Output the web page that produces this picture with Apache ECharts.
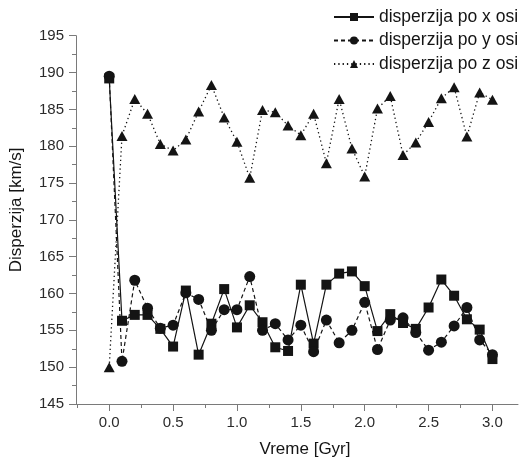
<!DOCTYPE html>
<html>
<head>
<meta charset="utf-8">
<title>Disperzija brzina</title>
<script src="https://cdn.jsdelivr.net/npm/echarts@6/dist/echarts.min.js"></script>
<style>
  html, body { margin: 0; padding: 0; background: #fff; }
  #chart { width: 523px; height: 463px; }
</style>
</head>
<body>
<div id="chart"></div>
<script>
// Time steps in Gyr
const vreme = [0.0, 0.1, 0.2, 0.3, 0.4, 0.5, 0.6, 0.7, 0.8, 0.9, 1.0,
               1.1, 1.2, 1.3, 1.4, 1.5, 1.6, 1.7, 1.8, 1.9, 2.0,
               2.1, 2.2, 2.3, 2.4, 2.5, 2.6, 2.7, 2.8, 2.9, 3.0];

// Velocity dispersion along each axis [km/s]
const dispX = [189.2, 156.3, 157.1, 157.1, 155.2, 152.8, 160.4, 151.7, 155.9, 160.6, 155.4,
               158.4, 156.1, 152.7, 152.2, 161.2, 153.2, 161.2, 162.7, 163.0, 161.0,
               154.9, 157.2, 156.0, 155.2, 158.1, 161.9, 159.7, 156.5, 155.1, 151.1];
const dispY = [189.5, 150.8, 161.8, 158.0, 155.3, 155.7, 160.1, 159.2, 155.0, 157.8, 157.8,
               162.3, 155.0, 155.9, 153.7, 155.7, 152.1, 156.4, 153.3, 155.0, 158.8,
               152.4, 156.4, 156.7, 154.7, 152.3, 153.4, 155.6, 158.1, 153.7, 151.7];
const dispZ = [150.0, 181.4, 186.4, 184.4, 180.3, 179.4, 180.9, 184.7, 188.3, 183.9, 180.6,
               175.7, 184.9, 184.6, 182.8, 181.5, 184.4, 177.7, 186.4, 179.7, 175.9,
               185.1, 186.8, 178.8, 180.5, 183.3, 186.5, 188.0, 181.3, 187.3, 186.3];

// Axis ticks
const xMajorTicks = [0.0, 0.5, 1.0, 1.5, 2.0, 2.5, 3.0];
const xMinorTicks = [-0.25, 0.25, 0.75, 1.25, 1.75, 2.25, 2.75];

const seriesNames = ['disperzija po x osi', 'disperzija po y osi', 'disperzija po z osi'];

const FONT = 'Liberation Sans, Arial, Helvetica, sans-serif';
const INK = '#141414';
const AXIS = '#7a7a7a';
const TEXT = '#2b2b2b';

const pairs = arr => vreme.map((t, i) => [t, arr[i]]);

const chart = echarts.init(document.getElementById('chart'), null, { renderer: 'canvas' });

const xRange = { min: -0.26, max: 3.2 };

chart.setOption({
  animation: false,
  backgroundColor: '#ffffff',
  grid: { left: 76, right: 5, top: 35.7, bottom: 58, containLabel: false },
  legend: {
    orient: 'vertical',
    left: 333,
    top: 8,
    padding: 0,
    itemWidth: 40,
    itemHeight: 10,
    itemGap: 5.5,
    textStyle: { fontFamily: FONT, fontSize: 17.5, color: INK },
    data: seriesNames
  },
  xAxis: [
    {
      type: 'value',
      min: xRange.min,
      max: xRange.max,
      name: 'Vreme [Gyr]',
      nameLocation: 'middle',
      nameGap: 37,
      nameTextStyle: { fontFamily: FONT, fontSize: 17, color: INK, padding: [0, 0, 0, 16] },
      axisLine: { show: true, onZero: false, lineStyle: { color: AXIS, width: 1 } },
      axisTick: { show: true, inside: false, length: 7, customValues: xMajorTicks, lineStyle: { color: AXIS } },
      axisLabel: {
        customValues: xMajorTicks,
        margin: 11,
        fontFamily: FONT, fontSize: 15, color: TEXT,
        formatter: v => v.toFixed(1)
      },
      splitLine: { show: false }
    },
    {
      // minor ticks between the labelled ones
      type: 'value',
      position: 'bottom',
      offset: 0,
      min: xRange.min,
      max: xRange.max,
      axisLine: { show: false, onZero: false },
      axisTick: { show: true, inside: false, length: 4, customValues: xMinorTicks, lineStyle: { color: AXIS } },
      axisLabel: { show: false },
      splitLine: { show: false }
    }
  ],
  yAxis: {
    type: 'value',
    min: 145,
    max: 195,
    interval: 5,
    name: 'Disperzija [km/s]',
    nameLocation: 'middle',
    nameRotate: 90,
    nameGap: 51,
    nameTextStyle: { fontFamily: FONT, fontSize: 17, color: INK, padding: [0, 0, 0, 20] },
    axisLine: { show: true, onZero: false, lineStyle: { color: AXIS, width: 1 } },
    axisTick: { show: true, inside: false, length: 7, lineStyle: { color: AXIS } },
    minorTick: { show: true, splitNumber: 2, length: 4, lineStyle: { color: AXIS } },
    axisLabel: { margin: 12, fontFamily: FONT, fontSize: 15, color: TEXT },
    splitLine: { show: false },
    minorSplitLine: { show: false }
  },
  series: [
    {
      name: seriesNames[0],
      type: 'line',
      data: pairs(dispX),
      symbol: 'rect',
      symbolSize: 10,
      showAllSymbol: true,
      itemStyle: { color: INK },
      lineStyle: { color: INK, width: 1.2, type: 'solid' }
    },
    {
      name: seriesNames[1],
      type: 'line',
      data: pairs(dispY),
      symbol: 'circle',
      symbolSize: 11,
      showAllSymbol: true,
      itemStyle: { color: INK },
      lineStyle: { color: INK, width: 1.2, type: [4, 3] }
    },
    {
      name: seriesNames[2],
      type: 'line',
      data: pairs(dispZ),
      symbol: 'triangle',
      symbolSize: [11, 10],
      showAllSymbol: true,
      itemStyle: { color: INK },
      lineStyle: { color: INK, width: 1.3, type: [1.3, 3] }
    }
  ]
});
</script>
</body>
</html>
